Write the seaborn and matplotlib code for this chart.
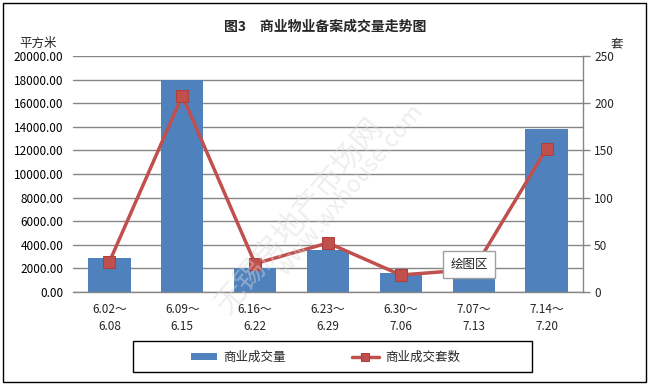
import numpy as np
import pandas as pd
import matplotlib
matplotlib.use("Agg")
import matplotlib.pyplot as plt
import seaborn as sns
from matplotlib.patches import Rectangle

# ---- data ----
periods = ["6.02～\n6.08", "6.09～\n6.15", "6.16～\n6.22", "6.23～\n6.29",
           "6.30～\n7.06", "7.07～\n7.13", "7.14～\n7.20"]
area = [2900, 18000, 2000, 3600, 1600, 1500, 13800]      # 平方米
units = [32, 208, 30, 52, 18, 24, 152]                    # 套
left_ticks = [0, 2000, 4000, 6000, 8000, 10000, 12000, 14000, 16000, 18000, 20000]
right_ticks = [0, 50, 100, 150, 200, 250]
title = "图3　商业物业备案成交量走势图"
bar_label = "商业成交量"
line_label = "商业成交套数"

BLUE = "#4F81BD"
RED = "#C0504D"
GRID = "#868686"
W, H = 650, 385

sns.set_style("white")
plt.rcParams["font.family"] = ["Noto Sans CJK SC", "DejaVu Sans"]

df = pd.DataFrame({"period": periods, "area": area, "units": units})

fig = plt.figure(figsize=(6.5, 3.85), dpi=100)
ax = fig.add_axes([73 / W, 1 - 292 / H, 510 / W, 236 / H])

sns.barplot(data=df, x="period", y="area", color=BLUE, width=0.58,
            saturation=1, ax=ax, label=bar_label, zorder=2,
            linewidth=0, edgecolor=BLUE)
ax.set_xlim(-0.5, 6.5)
ax.set_ylim(0, 20000)
ax.set_yticks(left_ticks)
ax.set_yticklabels([f"{v:.2f}" for v in left_ticks])
ax.yaxis.grid(True, color=GRID, lw=1)
ax.xaxis.grid(False)
ax.set_axisbelow(True)
for s in ["left", "top", "right"]:
    ax.spines[s].set_visible(False)
ax.spines["bottom"].set_color(GRID)
ax.spines["bottom"].set_linewidth(1)
ax.tick_params(axis="y", length=0, pad=7, labelsize=8.5, colors="black")
ax.tick_params(axis="x", length=0, pad=8, labelsize=8.5)
for t in ax.get_xticklabels():
    t.set_linespacing(1.35)
ax.set_xlabel("")
ax.set_ylabel("")

ax2 = ax.twinx()
sns.lineplot(data=df, x="period", y="units", color=RED, lw=2.5, marker="s",
             markersize=8, markeredgecolor="#B03F3C", markerfacecolor=RED,
             sort=False, ax=ax2, label=line_label)
ax2.set_ylim(0, 250)
ax2.set_yticks(right_ticks)
ax2.set_ylabel("")
ax2.grid(False)
for s in ["left", "top", "bottom"]:
    ax2.spines[s].set_visible(False)
ax2.spines["right"].set_color(GRID)
ax2.spines["right"].set_linewidth(1)
ax2.tick_params(axis="y", right=True, length=5, width=1, color=GRID,
                direction="out", pad=3, labelsize=8.5)
ax.set_xlim(-0.5, 6.5)

# legends
h1, l1 = ax.get_legend_handles_labels()
h2, l2 = ax2.get_legend_handles_labels()
if ax.get_legend():
    ax.get_legend().remove()
if ax2.get_legend():
    ax2.get_legend().remove()
fig.legend(h1 + h2, l1 + l2, loc="center left",
           bbox_to_anchor=(191 / W, 1 - 357 / H), ncol=2, frameon=False,
           handlelength=2.1, handleheight=0.5, handletextpad=0.5,
           columnspacing=5.3, borderpad=0, borderaxespad=0, fontsize=9,
           markerscale=0.8)
fig.patches.append(Rectangle((133 / W, 1 - 372 / H), 399 / W, 31 / H,
                             transform=fig.transFigure, fill=False,
                             ec="black", lw=1))
# outer border
fig.patches.append(Rectangle((3 / W, 1 - 382 / H), 643 / W, 379 / H,
                             transform=fig.transFigure, fill=False,
                             ec="black", lw=1))

# texts
fig.text(325 / W, 1 - 27 / H, title, ha="center", va="center",
         fontsize=10, fontweight="bold")
fig.text(38 / W, 1 - 43 / H, "平方米", ha="center", va="center", fontsize=9)
fig.text(617 / W, 1 - 44 / H, "套", ha="center", va="center", fontsize=9)

# watermark
fig.text(300 / W, 1 - 215 / H, "无锡房地产市场网", rotation=50, ha="center",
         va="center", fontsize=22, color="#DADADA", alpha=0.45, zorder=5)
fig.text(350 / W, 1 - 190 / H, "www.wxhouse.com", rotation=50, ha="center",
         va="center", fontsize=17, color="#DADADA", alpha=0.45, zorder=5)

# plot-area tooltip
fig.text(469 / W, 1 - 264.5 / H, "绘图区", ha="center", va="center",
         fontsize=9, zorder=10,
         bbox=dict(boxstyle="square,pad=0.55", fc="white", ec="#A0A0A0", lw=1))

fig.savefig("out.png", dpi=100)
